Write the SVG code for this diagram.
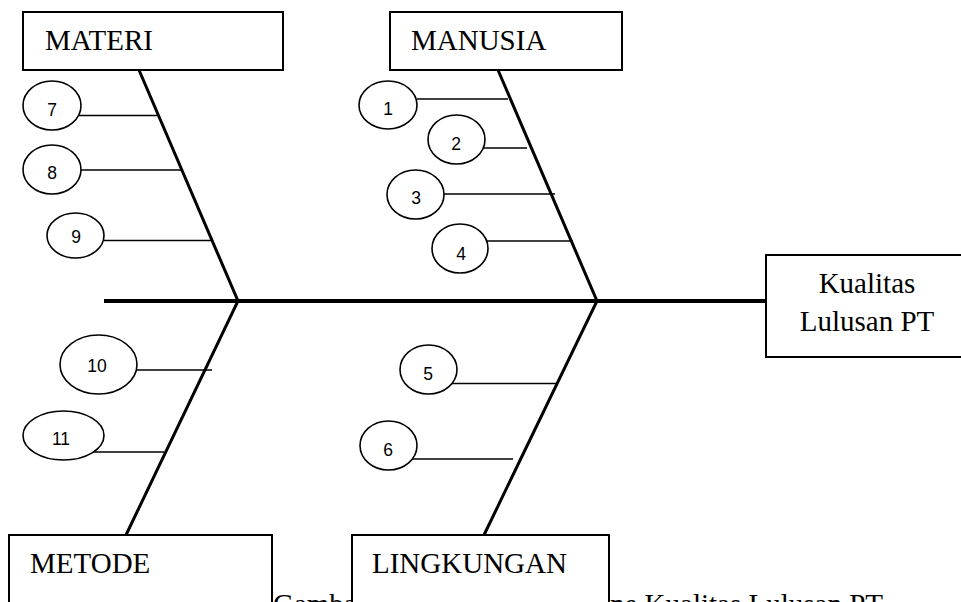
<svg xmlns="http://www.w3.org/2000/svg" width="961" height="602" viewBox="0 0 961 602">
<style>
.box{fill:#fff;stroke:#000;stroke-width:2}
.lbl{font-family:"Liberation Serif","Times New Roman",serif;font-size:29px;fill:#000}
.ell{fill:#fff;stroke:#000;stroke-width:1.6}
.num{font-family:"Liberation Sans",Arial,sans-serif;font-size:17.5px;fill:#000;text-anchor:middle}
.bone{stroke:#000;stroke-width:3;fill:none;stroke-linecap:butt}
.br{stroke:#000;stroke-width:1.6;fill:none}
</style>
<rect width="961" height="602" fill="#fff"/>
<g id="caption">
<text class="lbl" x="273" y="614">Gamba</text>
<text class="lbl" x="610" y="614">ne Kualitas Lulusan PT</text>
</g>
<g id="connectors">
<line class="bone" x1="104" y1="301" x2="766" y2="301" style="stroke-width:4"/>
<polyline class="bone" points="139,70 238,301 126,535"/>
<polyline class="bone" points="498,70 597,301 484,535"/>
<line class="br" x1="79" y1="115.5" x2="158" y2="115.5"/>
<line class="br" x1="81" y1="170" x2="182" y2="170"/>
<line class="br" x1="104" y1="240.5" x2="211" y2="240.5"/>
<line class="br" x1="417" y1="99" x2="508" y2="99"/>
<line class="br" x1="484" y1="148" x2="527" y2="148"/>
<line class="br" x1="444" y1="194" x2="555" y2="194"/>
<line class="br" x1="487" y1="241" x2="573" y2="241"/>
<line class="br" x1="137" y1="370" x2="212" y2="370"/>
<line class="br" x1="92" y1="452" x2="164" y2="452"/>
<line class="br" x1="452" y1="383.5" x2="557" y2="383.5"/>
<line class="br" x1="411" y1="459" x2="513" y2="459"/>
</g>
<g id="materi"><rect class="box" x="23" y="12" width="260" height="58"/><text class="lbl" x="45" y="50">MATERI</text></g>
<g id="manusia"><rect class="box" x="390" y="12" width="232" height="58"/><text class="lbl" x="411" y="50">MANUSIA</text></g>
<g id="kualitas"><rect class="box" x="766" y="255" width="200" height="102"/><text class="lbl" x="867" y="293" text-anchor="middle">Kualitas</text><text class="lbl" x="867" y="331" text-anchor="middle">Lulusan PT</text></g>
<g id="metode"><rect class="box" x="9" y="535" width="263" height="80"/><text class="lbl" x="30" y="573">METODE</text></g>
<g id="lingkungan"><rect class="box" x="352" y="535" width="257" height="80"/><text class="lbl" x="372" y="573">LINGKUNGAN</text></g>
<g id="n7"><ellipse class="ell" cx="52" cy="105.5" rx="29" ry="24.5"/><text class="num" x="52" y="116">7</text></g>
<g id="n8"><ellipse class="ell" cx="52" cy="169.5" rx="29" ry="24.5"/><text class="num" x="52" y="179">8</text></g>
<g id="n9"><ellipse class="ell" cx="75.5" cy="235.5" rx="28.5" ry="22.5"/><text class="num" x="76" y="243">9</text></g>
<g id="n1"><ellipse class="ell" cx="388" cy="105" rx="29" ry="24"/><text class="num" x="388" y="115">1</text></g>
<g id="n2"><ellipse class="ell" cx="456.5" cy="139.5" rx="28.5" ry="24.5"/><text class="num" x="456" y="150">2</text></g>
<g id="n3"><ellipse class="ell" cx="415.5" cy="194.5" rx="28.5" ry="24.5"/><text class="num" x="416" y="204">3</text></g>
<g id="n4"><ellipse class="ell" cx="460" cy="248.5" rx="28" ry="24.5"/><text class="num" x="461" y="260">4</text></g>
<g id="n10"><ellipse class="ell" cx="98.5" cy="364.5" rx="38.5" ry="29.5"/><text class="num" x="97" y="372">10</text></g>
<g id="n11"><ellipse class="ell" cx="63.5" cy="435.5" rx="40.5" ry="24.5"/><text class="num" x="61" y="445">11</text></g>
<g id="n5"><ellipse class="ell" cx="428.5" cy="369.5" rx="28.5" ry="24.5"/><text class="num" x="428" y="380">5</text></g>
<g id="n6"><ellipse class="ell" cx="388.5" cy="445.5" rx="28.5" ry="24.5"/><text class="num" x="388" y="456">6</text></g>
</svg>
